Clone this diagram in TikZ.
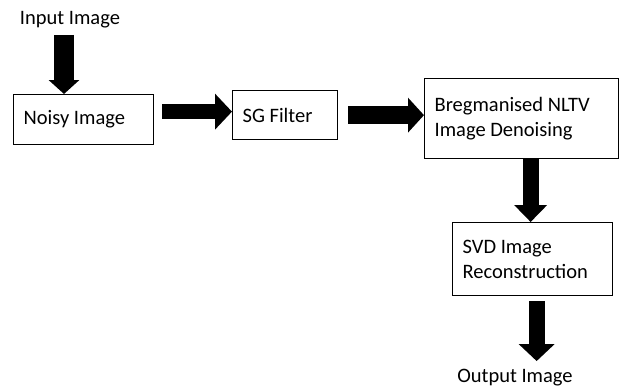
\documentclass[tikz,border=0pt]{standalone}
\usepackage{fontspec}
\setmainfont{Carlito}
\usetikzlibrary{arrows.meta}
\begin{document}
\begin{tikzpicture}[
    x=1pt, y=-1pt,
    every node/.style={font=\fontsize{20.5}{25}\selectfont},
    stage/.style={draw, line width=1.3pt, anchor=north west, align=flush left,
        inner xsep=10pt, inner ysep=0pt},
    blk/.style={line width=#1, -{Triangle[length=16pt, width=34pt]}}
]
    \useasboundingbox (0,0) rectangle (619,389);
    % Labels
    \node (in) at (70,20) {Input Image};
    \node (out) at (515,378) {Output Image};
    % Stages
    \node[stage, text width=120pt, minimum height=50pt] (noisy) at (13,94) {Noisy Image};
    \node[stage, text width=85pt, minimum height=49pt] (sg) at (232,90) {SG Filter};
    \node[stage, text width=174pt, minimum height=80pt] (nltv) at (424,78) {Bregmanised NLTV\\Image Denoising};
    \node[stage, text width=140pt, minimum height=73pt] (svd) at (452,222) {SVD Image\\Reconstruction};
    % Arrows
    \draw[blk=20pt, -{Triangle[length=14pt, width=30pt]}] ([xshift=-6pt, yshift=-3pt]in.south) -- ([xshift=-6pt]in.south |- noisy.north);
    \draw[blk=15pt, -{Triangle[length=17pt, width=35pt]}] ([xshift=8pt, yshift=8pt]noisy.east) -- ([yshift=8pt]noisy.east -| sg.west);
    \draw[blk=18pt] ([xshift=10pt]sg.east) -- (sg.east -| nltv.west);
    \draw[blk=16pt, -{Triangle[length=17pt, width=32pt]}] ([xshift=9pt]nltv.south) -- ([xshift=9pt]nltv.south |- svd.north);
    \draw[blk=16pt, -{Triangle[length=17pt, width=35pt]}] ([xshift=4pt, yshift=-5pt]svd.south) -- ([xshift=4pt, yshift=5pt]svd.south |- out.north);
\end{tikzpicture}
\end{document}
